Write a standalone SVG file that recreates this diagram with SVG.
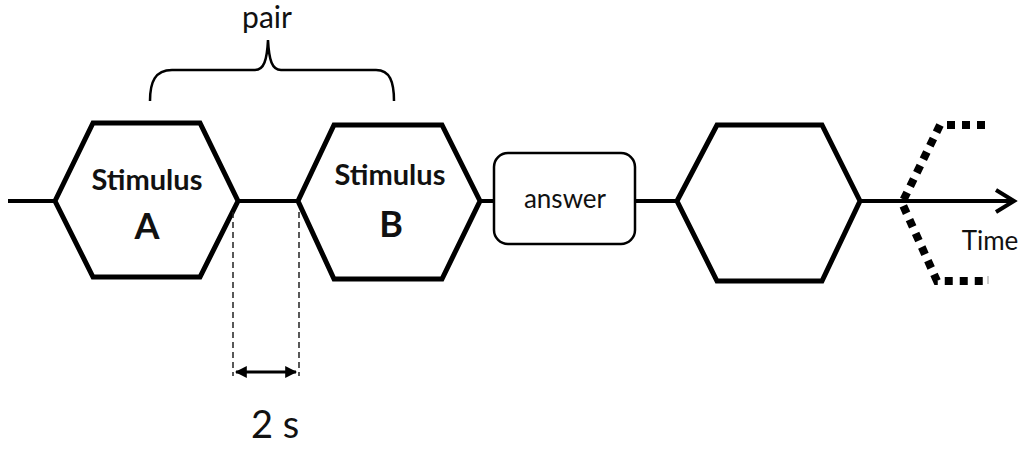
<svg xmlns="http://www.w3.org/2000/svg" width="1026" height="464" viewBox="0 0 1026 464">
<defs>
<style>
.hex{fill:#fff;stroke:#000;stroke-width:5;stroke-linejoin:miter}
.line{fill:none;stroke:#000;stroke-width:4}
.lbl{font-family:Lato,"Liberation Sans",sans-serif;fill:#111}
.b{font-weight:bold}
.dash{fill:none;stroke:#222;stroke-width:1.5;stroke-dasharray:6,4}
</style>
<marker id="ah" viewBox="0 0 10 10" refX="9" refY="5" markerWidth="4" markerHeight="4" orient="auto-start-reverse" markerUnits="strokeWidth">
<path d="M0,0 L10,5 L0,10 Z" fill="#000"/>
</marker>
</defs>
<rect width="1026" height="464" fill="#fff"/>
<g id="connectors">
<line class="line" x1="8" y1="201" x2="60" y2="201"/>
<line class="line" x1="236" y1="201" x2="300" y2="201"/>
<line class="line" x1="478" y1="201" x2="495" y2="201"/>
<line class="line" x1="634" y1="201" x2="680" y2="201"/>
<line class="line" x1="858" y1="201" x2="1013" y2="201"/>
<path class="line" d="M996,190 L1014,201 L996,212" stroke-width="4"/>
<path d="M985,125 L940,125 L902,203 L937,281 L985,281" fill="none" stroke="#000" stroke-width="8" stroke-dasharray="8,7"/>
<line x1="988" y1="276" x2="988" y2="284" stroke="#999" stroke-width="1"/>
</g>
<g id="brace">
<path d="M150,101 C150,82 155,70 172,70 L255,70 C264,70 267,60 268,40 C269,60 272,70 281,70 L376,70 C390,70 394,82 394,101" fill="none" stroke="#000" stroke-width="2.5"/>
<text class="lbl" x="267" y="28" font-size="30" text-anchor="middle">pair</text>
</g>
<g id="stimA">
<polygon class="hex" points="55,201 93,123 200,123 238,201 200,277 93,277"/>
<text class="lbl b" x="147" y="190" font-size="29" text-anchor="middle">Stimulus</text>
<text class="lbl b" x="147" y="239" font-size="36" text-anchor="middle">A</text>
</g>
<g id="stimB">
<polygon class="hex" points="298,201 334,125 442,125 480,201 442,279 334,279"/>
<text class="lbl b" x="390" y="185" font-size="29" text-anchor="middle">Stimulus</text>
<text class="lbl b" x="391" y="237" font-size="36" text-anchor="middle">B</text>
</g>
<g id="answer">
<rect x="494" y="153" width="141" height="91" rx="14" ry="14" fill="#fff" stroke="#000" stroke-width="2.5"/>
<text class="lbl" x="565" y="208" font-size="26" text-anchor="middle">answer</text>
</g>
<g id="hex4">
<polygon class="hex" points="677,201 717,125 822,125 860,201 822,281 717,281"/>
</g>
<g id="timelabel">
<text class="lbl" x="990" y="250" font-size="26" text-anchor="middle">Time</text>
</g>
<g id="interval">
<line class="dash" x1="233" y1="212" x2="233" y2="376"/>
<line class="dash" x1="299" y1="212" x2="299" y2="376"/>
<line x1="236" y1="372" x2="296" y2="372" stroke="#000" stroke-width="3" marker-start="url(#ah)" marker-end="url(#ah)"/>
<text class="lbl" x="275" y="438" font-size="38" text-anchor="middle">2 s</text>
</g>
</svg>
